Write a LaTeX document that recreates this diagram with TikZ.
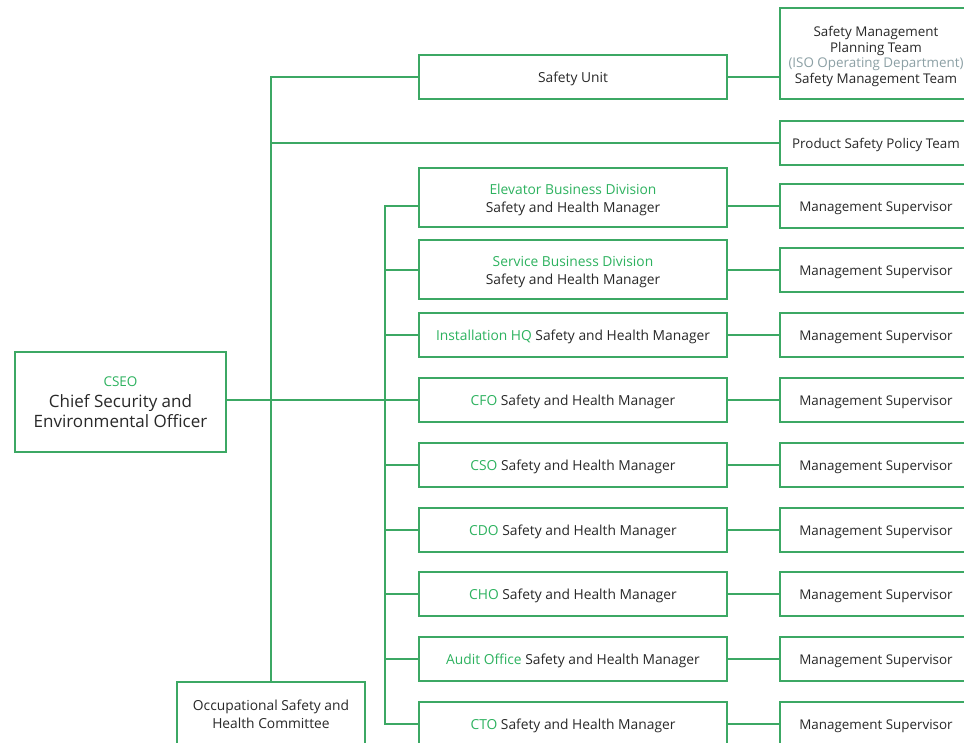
\documentclass[tikz,border=0pt]{standalone}
\usepackage{fontspec}
\setmainfont{Open Sans}
\definecolor{lineg}{RGB}{60,168,100}
\definecolor{textg}{RGB}{45,178,95}
\definecolor{textk}{RGB}{40,40,40}
\definecolor{textgray}{RGB}{140,160,165}
\tikzset{
  box/.style={draw=lineg, line width=1.3pt, fill=white, align=center, text=textk,
    font=\fontsize{13.8}{18}\selectfont, inner sep=0pt, minimum height=44pt,
    text height=13.5pt, text depth=3.1pt},
  midbox/.style={box, minimum width=308pt},
  rbox/.style={box, minimum width=192pt, font=\fontsize{13.4}{18}\selectfont},
  link/.style={draw=lineg, line width=1.2pt},
}
\newcommand{\gr}[1]{\textcolor{textg}{#1}}
\begin{document}
\begin{tikzpicture}[x=1pt,y=-1pt]
\useasboundingbox (0,0) rectangle (964,743);
\clip (0,0) rectangle (964,743);

% head of the chart
\node[box, minimum width=211pt, minimum height=100pt, font=\fontsize{17}{19.5}\selectfont,
      text height={}, text depth={}] (cseo) at (120.5,402)
  {{\fontsize{13.5}{16}\selectfont\gr{CSEO}}\\[2pt]Chief Security and\\Environmental Officer};
\node[box, minimum width=188pt, minimum height=64pt, text height={}, text depth={}] (occ) at (271,714)
  {Occupational Safety and\\Health Committee};

% safety unit branch
\node[midbox] (su) at (573,77) {Safety Unit};
\node[rbox, minimum height=91pt, font=\fontsize{13.4}{15.7}\selectfont, text height=63.5pt] (smp) at (876,53.5)
  {Safety Management\\Planning Team\\\textcolor{textgray}{(ISO Operating Department)}\\Safety Management Team};
\node[rbox] (psp) at (876,143) {Product Safety Policy Team};

% safety and health managers
\node[midbox, minimum height=59pt, text height=33.5pt] (m1) at (573,197.5) {\gr{Elevator Business Division}\\Safety and Health Manager};
\node[midbox, minimum height=59pt, text height=33.5pt] (m2) at (573,269.5) {\gr{Service Business Division}\\Safety and Health Manager};
\node[midbox] (m3) at (573,335) {\gr{Installation HQ} Safety and Health Manager};
\node[midbox] (m4) at (573,400) {\gr{CFO} Safety and Health Manager};
\node[midbox] (m5) at (573,465) {\gr{CSO} Safety and Health Manager};
\node[midbox] (m6) at (573,530) {\gr{CDO} Safety and Health Manager};
\node[midbox] (m7) at (573,594) {\gr{CHO} Safety and Health Manager};
\node[midbox] (m8) at (573,659) {\gr{Audit Office} Safety and Health Manager};
\node[midbox] (m9) at (573,724) {\gr{CTO} Safety and Health Manager};

% management supervisors
\foreach \i/\y in {1/206,2/270,3/335,4/400,5/465,6/530,7/594,8/659,9/724}
  \node[rbox] (s\i) at (876,\y) {Management Supervisor};

% connectors
\coordinate (trunk) at (385,206);
\draw[link] (su.west) -| (occ.north);
\draw[link] (psp.west) -- (psp.west -| occ.north);
\draw[link] (su.east) -- (su.east -| smp.west);
\draw[link] (m4.west) -- (m4.west -| cseo.east);
\draw[link] (s1.west -| m1.west) -| (trunk) |- (m9.west);
\foreach \i in {1,...,9}{
  \draw[link] (s\i.west -| m\i.west) -- (s\i.west -| trunk);
  \draw[link] (s\i.west -| m\i.east) -- (s\i.west);
}
\end{tikzpicture}
\end{document}
